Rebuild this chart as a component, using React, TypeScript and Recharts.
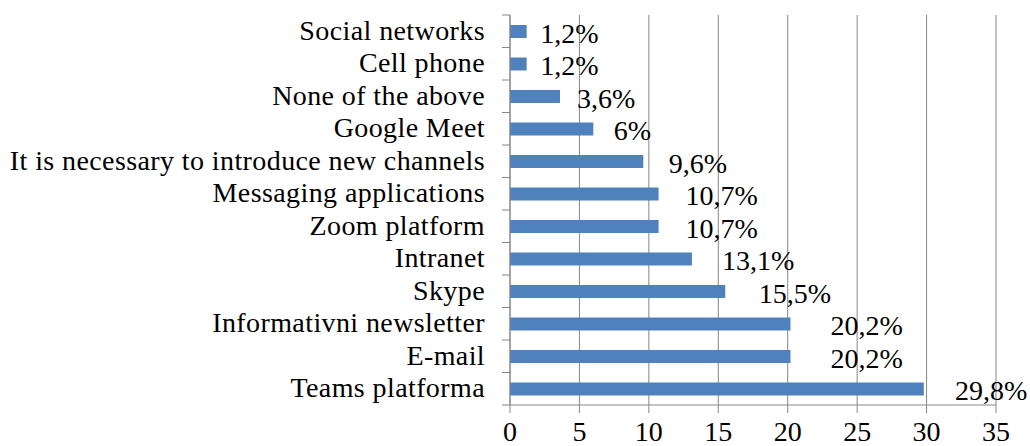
import { BarChart, Bar, XAxis, YAxis, CartesianGrid, LabelList } from "recharts";

const categories = [
  "Social networks",
  "Cell phone",
  "None of the above",
  "Google Meet",
  "It is necessary to introduce new channels",
  "Messaging applications",
  "Zoom platform",
  "Intranet",
  "Skype",
  "Informativni newsletter",
  "E-mail",
  "Teams platforma",
];
const shares = [1.2, 1.2, 3.6, 6, 9.6, 10.7, 10.7, 13.1, 15.5, 20.2, 20.2, 29.8];
const xTicks = [0, 5, 10, 15, 20, 25, 30, 35];

const data = categories.map((name, i) => ({ name, value: shares[i] }));

const FONT = "Liberation Serif, Times New Roman, DejaVu Serif, serif";
const AXIS = "#868686";
const W = 1030;
const H = 446;
const TOP = 15;
const BOTTOM = 41;
const BAND = (H - TOP - BOTTOM) / categories.length;

function CategoryTick(props: any) {
  const { x, y, payload, index } = props;
  // recharts hands over x = axis - tickSize(6) - tickMargin(2)
  const ax = x + 8;
  return (
    <g>
      {index === 0 && <line x1={ax - 8} x2={ax} y1={y - BAND / 2} y2={y - BAND / 2} stroke={AXIS} />}
      <line x1={ax - 8} x2={ax} y1={y + BAND / 2} y2={y + BAND / 2} stroke={AXIS} />
      <text
        x={ax - 25}
        y={y}
        dy="0.3em"
        textAnchor="end"
        style={{ fontFamily: FONT, fontSize: 28, letterSpacing: 0.4 }}
        fill="#000"
      >
        {payload.value}
      </text>
    </g>
  );
}

function ValueLabel(props: any) {
  const { x, y, width, height, value } = props;
  const lx = Math.min(x + width + 12 + width * 0.1, 955);
  return (
    <text x={lx} y={y + height / 2 + 3} dy="0.3em" style={{ fontFamily: FONT, fontSize: 28 }} fill="#000">
      {String(value).replace(".", ",")}%
    </text>
  );
}

export default function App() {
  return (
    <div style={{ position: "fixed", left: 0, top: 0, width: W, height: H, background: "#fff", fontFamily: FONT }}>
      <BarChart
        width={W}
        height={H}
        data={data}
        layout="vertical"
        margin={{ top: TOP, right: 34, bottom: 0, left: 0 }}
        barCategoryGap={0}
        style={{ fontFamily: FONT }}
      >
        <CartesianGrid horizontal={false} stroke={AXIS} strokeWidth={1} />
        <XAxis
          type="number"
          domain={[0, 35]}
          ticks={xTicks}
          interval={0}
          height={BOTTOM}
          stroke={AXIS}
          tickSize={8}
          tickMargin={8}
          tick={{ fill: "#000", style: { fontFamily: FONT }, fontSize: 28 }}
        />
        <YAxis
          type="category"
          dataKey="name"
          width={510}
          stroke={AXIS}
          tickLine={false}
          interval={0}
          tick={<CategoryTick />}
        />
        <Bar dataKey="value" fill="#4F81BD" barSize={13} isAnimationActive={false}>
          <LabelList dataKey="value" content={<ValueLabel />} />
        </Bar>
      </BarChart>
    </div>
  );
}
